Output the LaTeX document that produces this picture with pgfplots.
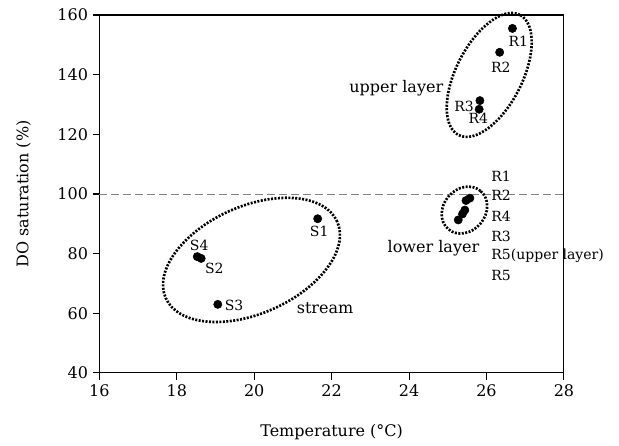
\documentclass[border=0pt]{standalone}
\usepackage{fontspec}
\setmainfont{DejaVu Serif}
\usepackage{pgfplots}
\pgfplotsset{compat=1.18}

\begin{document}
\begin{tikzpicture}
% page size: 619x446 px at 0.75pt per px, axis box at the origin
\useasboundingbox (-74.5pt,-54.75pt) rectangle (389.8pt,279.75pt);
\begin{axis}[
  width=348.5pt, height=268.5pt, scale only axis,
  xmin=16, xmax=28, ymin=40, ymax=160,
  xtick={16,18,...,28}, ytick={40,60,...,160},
  tick align=outside, xtick pos=bottom, ytick pos=left,
  major tick length=5pt,
  axis line style={line width=0.8pt},
  tick style={line width=0.8pt, black},
  ticklabel style={font=\fontsize{12}{14}\selectfont},
  /pgf/number format/assume math mode=true,
  xlabel={Temperature (°C)},
  ylabel={DO saturation (\%)},
  label style={font=\fontsize{12}{14}\selectfont},
  xlabel style={yshift=-14pt},
  ylabel style={yshift=13pt},
  clip=false,
]
% 100% saturation reference
\addplot[gray, line width=0.6pt, dash pattern=on 6pt off 3pt] coordinates {(16,100) (28,100)};

% reservoir, upper layer
\addplot[only marks, mark=*, mark size=3.1pt, black] coordinates {
(26.67,155.5) (26.34,147.5) (25.83,131.3) (25.81,128.4)
};
% reservoir, lower layer
\addplot[only marks, mark=*, mark size=3.1pt, black] coordinates {
(25.57,98.6) (25.47,97.8) (25.44,94.6) (25.38,93.3) (25.27,91.3)
};
% stream
\addplot[only marks, mark=*, mark size=3.1pt, black] coordinates {
(21.64,91.7) (18.53,79.0) (18.63,78.4) (19.06,63.0)
};

% group outlines
\tikzset{grp/.style={draw=black, line width=2pt, dash pattern=on 1.5pt off 1.1pt}}
\draw[grp, shift={(axis cs:26.07,139.9)}, rotate=63] (0pt,0pt) ellipse [x radius=50.6pt, y radius=24.8pt];
\draw[grp, shift={(axis cs:25.43,94.6)}, rotate=50] (0pt,0pt) ellipse [x radius=18.75pt, y radius=15.75pt];
\draw[grp, shift={(axis cs:19.93,77.9)}, rotate=24] (0pt,0pt) ellipse [x radius=70.4pt, y radius=40.2pt];

% group names
\node[font=\fontsize{12}{14}\selectfont] at (axis cs:23.67,135.5) {upper layer};
\node[font=\fontsize{12}{14}\selectfont] at (axis cs:24.63,81.9) {lower layer};
\node[font=\fontsize{12}{14}\selectfont] at (axis cs:21.83,61.8) {stream};

% point labels
\begin{scope}[every node/.style={font=\fontsize{10.5}{12}\selectfont, inner sep=0pt}]
\node at (axis cs:26.82,151.3) {R1};
\node at (axis cs:26.37,142.6) {R2};
\node at (axis cs:25.42,129.5) {R3};
\node at (axis cs:25.79,125.5) {R4};
\node[anchor=west] at (axis cs:26.12,105.8) {R1};
\node[anchor=west] at (axis cs:26.12,99.7) {R2};
\node[anchor=west] at (axis cs:26.12,92.4) {R4};
\node[anchor=west] at (axis cs:26.12,85.9) {R3};
\node[anchor=west] at (axis cs:26.12,79.3) {R5(upper layer)};
\node[anchor=west] at (axis cs:26.12,72.8) {R5};
\node at (axis cs:21.68,87.6) {S1};
\node at (axis cs:18.58,82.6) {S4};
\node at (axis cs:18.97,75.2) {S2};
\node at (axis cs:19.48,62.8) {S3};
\end{scope}
\end{axis}
\end{tikzpicture}
\end{document}
